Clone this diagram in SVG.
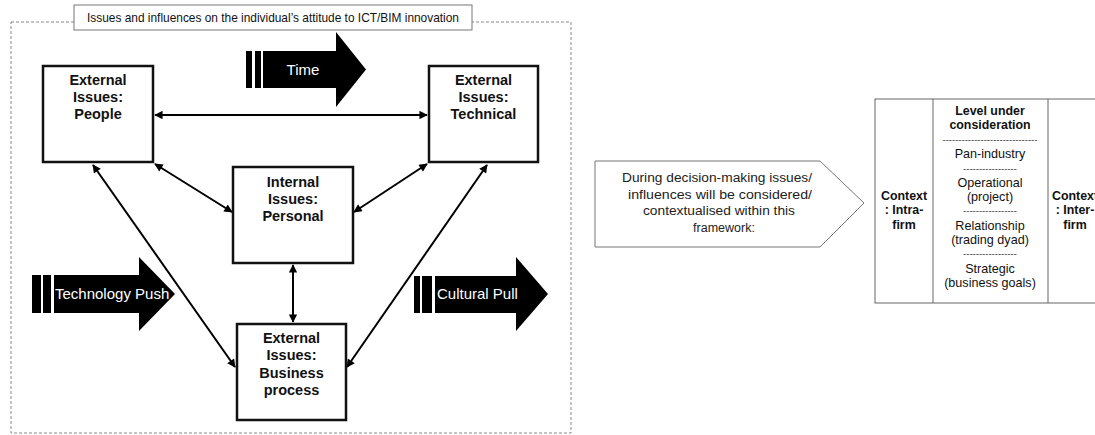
<svg xmlns="http://www.w3.org/2000/svg" width="1095" height="435" viewBox="0 0 1095 435">
<style>
.box{fill:#fff;stroke:#111;stroke-width:2.5}
.lbl{font-family:"Liberation Sans",Arial,sans-serif;font-weight:bold;font-size:14.5px;fill:#111;text-anchor:middle}
.con{stroke:#000;stroke-width:2;fill:none;marker-start:url(#ah);marker-end:url(#ah)}
.blk{fill:#000}
.wt{font-family:"Liberation Sans",Arial,sans-serif;fill:#fff;font-size:15px}
.tb{font-family:"Liberation Sans",Arial,sans-serif;font-size:12.6px;fill:#111;text-anchor:middle}
.tbb{font-weight:bold;font-size:12.4px}
.dsh{font-family:"Liberation Sans",Arial,sans-serif;font-size:9.5px;fill:#333;text-anchor:middle}
.co{font-family:"Liberation Sans",Arial,sans-serif;font-size:12.5px;fill:#222;text-anchor:middle}
</style>
<defs>
<marker id="ah" viewBox="0 0 10 10" refX="9" refY="5" markerWidth="4.8" markerHeight="4.2" orient="auto-start-reverse">
<path d="M0,0 L10,5 L0,10 z" fill="#000"/>
</marker>
</defs>
<rect width="1095" height="435" fill="#fff"/>

<g id="frame">
<rect x="11" y="22" width="560" height="411" fill="none" stroke="#888" stroke-width="1" stroke-dasharray="3,2"/>
<rect x="74" y="5" width="398" height="25" fill="#fff" stroke="#777" stroke-width="1"/>
<text x="273" y="22" font-family="Liberation Sans,Arial,sans-serif" font-size="11.9" fill="#111" text-anchor="middle">Issues and influences on the individual’s attitude to ICT/BIM innovation</text>
</g>

<g id="time">
<rect class="blk" x="246" y="51" width="6" height="37"/>
<rect class="blk" x="255" y="51" width="6" height="37"/>
<polygon class="blk" points="263,51 336,51 336,32 366,69.5 336,107 336,88 263,88"/>
<text class="wt" x="303" y="74.5" font-size="14" text-anchor="middle">Time</text>
</g>

<g id="tech-push">
<rect class="blk" x="32" y="275" width="9" height="38"/>
<rect class="blk" x="43" y="275" width="8" height="38"/>
<polygon class="blk" points="54,275 139,275 139,257 175,294 139,331 139,313 54,313"/>
<text class="wt" x="55" y="299">Technology Push</text>
</g>

<g id="cultural-pull">
<rect class="blk" x="414" y="276" width="6" height="37"/>
<rect class="blk" x="422" y="276" width="10" height="37"/>
<polygon class="blk" points="435,276 516,276 516,257 548,294 516,331 516,313 435,313"/>
<text class="wt" x="437" y="299">Cultural Pull</text>
</g>

<g id="connectors">
<line class="con" x1="155" y1="115" x2="427" y2="115"/>
<line class="con" x1="155" y1="164" x2="232" y2="212"/>
<line class="con" x1="427" y1="164" x2="354" y2="212"/>
<line class="con" x1="293" y1="265" x2="293" y2="322"/>
<line class="con" x1="93" y1="165" x2="235" y2="367"/>
<line class="con" x1="487" y1="165" x2="347" y2="367"/>
</g>

<g id="people">
<rect class="box" x="43" y="66" width="110" height="96"/>
<text class="lbl" x="98" y="85">External</text>
<text class="lbl" x="98" y="102">Issues:</text>
<text class="lbl" x="98" y="119">People</text>
</g>

<g id="technical">
<rect class="box" x="429" y="66" width="109" height="96"/>
<text class="lbl" x="483.5" y="85">External</text>
<text class="lbl" x="483.5" y="102">Issues:</text>
<text class="lbl" x="483.5" y="119">Technical</text>
</g>

<g id="personal">
<rect class="box" x="233" y="167" width="120" height="96"/>
<text class="lbl" x="293" y="187">Internal</text>
<text class="lbl" x="293" y="204">Issues:</text>
<text class="lbl" x="293" y="221">Personal</text>
</g>

<g id="business">
<rect class="box" x="237" y="324" width="109" height="96"/>
<text class="lbl" x="291.5" y="343">External</text>
<text class="lbl" x="291.5" y="360">Issues:</text>
<text class="lbl" x="291.5" y="378">Business</text>
<text class="lbl" x="291.5" y="395">process</text>
</g>

<g id="callout">
<polygon points="595,161 820,161 864,203 820,247 595,247" fill="#fff" stroke="#777" stroke-width="1"/>
<text class="co" x="717" y="182" textLength="190" lengthAdjust="spacingAndGlyphs">During decision-making issues/</text>
<text class="co" x="720" y="199" textLength="184" lengthAdjust="spacingAndGlyphs">influences will be considered/</text>
<text class="co" x="719" y="215" textLength="152" lengthAdjust="spacingAndGlyphs">contextualised within this</text>
<text class="co" x="724" y="232">framework:</text>
</g>

<g id="table">
<rect x="875" y="99" width="240" height="204" fill="#fff" stroke="#666" stroke-width="1"/>
<line x1="933" y1="99" x2="933" y2="303" stroke="#666" stroke-width="1"/>
<line x1="1048" y1="99" x2="1048" y2="303" stroke="#666" stroke-width="1"/>
<text class="tb tbb" x="904" y="200">Context</text>
<text class="tb tbb" x="904" y="214">: Intra-</text>
<text class="tb tbb" x="904" y="229">firm</text>
<text class="tb tbb" x="990" y="115">Level under</text>
<text class="tb tbb" x="990" y="129">consideration</text>
<text class="dsh" x="990" y="143">------------------------------</text>
<text class="tb" x="990" y="158">Pan-industry</text>
<text class="dsh" x="990" y="172">-----------------</text>
<text class="tb" x="990" y="187">Operational</text>
<text class="tb" x="990" y="201">(project)</text>
<text class="dsh" x="990" y="214">-----------------</text>
<text class="tb" x="990" y="230">Relationship</text>
<text class="tb" x="990" y="244">(trading dyad)</text>
<text class="dsh" x="990" y="257">-----------------</text>
<text class="tb" x="990" y="273">Strategic</text>
<text class="tb" x="990" y="287">(business goals)</text>
<text class="tb tbb" x="1075" y="200">Context</text>
<text class="tb tbb" x="1075" y="214">: Inter-</text>
<text class="tb tbb" x="1075" y="229">firm</text>
</g>
</svg>
